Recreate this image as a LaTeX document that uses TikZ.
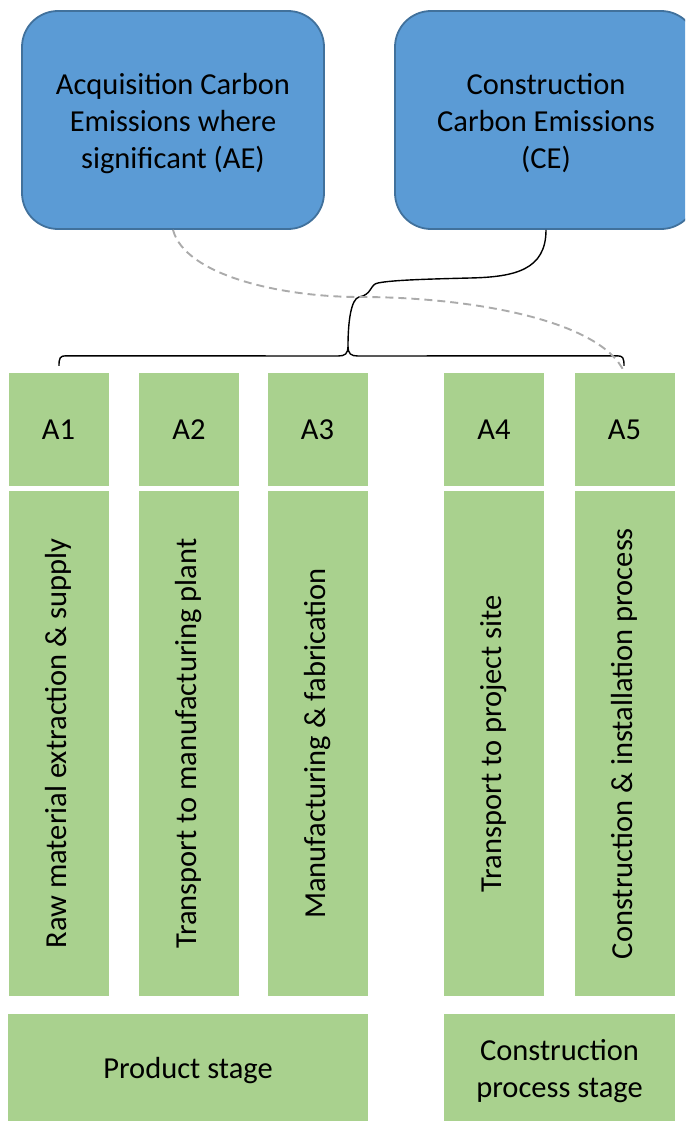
\documentclass[tikz,border=0pt]{standalone}
\usepackage{fontspec}
\setmainfont{Carlito}
\usetikzlibrary{calc}
\definecolor{bluefill}{HTML}{5B9BD5}
\definecolor{blueline}{HTML}{41719C}
\definecolor{greenfill}{HTML}{A9D18E}
\definecolor{dashgray}{HTML}{ABABAB}
\newcommand{\bluetext}[1]{\parbox{280pt}{\vspace*{7pt}\centering #1}}
\tikzset{
  bluebox/.style={rectangle, rounded corners=36pt, fill=bluefill, draw=blueline, line width=1.8pt,
    minimum width=302pt, minimum height=218pt,
    font=\fontsize{30.5}{37}\selectfont, inner sep=0pt},
  greenbox/.style={rectangle, fill=greenfill, draw=none, inner sep=0pt,
    font=\fontsize{30.5}{37}\selectfont, align=center},
  labelbox/.style={greenbox, minimum width=100pt, minimum height=113pt},
  descbox/.style={greenbox, minimum width=100pt, minimum height=505pt},
  stagebox/.style={greenbox, minimum height=114pt},
  bracket/.style={draw=black, line width=1.4pt},
  dashlink/.style={draw=dashgray, line width=1.9pt, dash pattern=on 8pt off 5pt},
}
\begin{document}
\begin{tikzpicture}[x=1pt,y=-1pt]
\useasboundingbox (0,0) rectangle (685,1121);
\clip (0,0) rectangle (685,1121);

% top blue boxes
\node[bluebox] (ae) at (173,120) {\bluetext{Acquisition Carbon\\Emissions where\\significant (AE)}};
\node[bluebox] (ce) at (546,120) {\bluetext{Construction\\Carbon Emissions\\(CE)}};

% A labels
\node[labelbox] (a1) at (58.5,429.5) {A1};
\node[labelbox] (a2) at (189,429.5) {A2};
\node[labelbox] (a3) at (317.5,429.5) {A3};
\node[labelbox] (a4) at (494,429.5) {A4};
\node[labelbox] (a5) at (624.5,429.5) {A5};

% descriptions
\node[descbox] (d1) at (58.5,743.5) {\rotatebox{90}{Raw material extraction \& supply}};
\node[descbox] (d2) at (189,743.5) {\rotatebox{90}{Transport to manufacturing plant}};
\node[descbox] (d3) at (317.5,743.5) {\rotatebox{90}{Manufacturing \& fabrication}};
\node[descbox] (d4) at (494,743.5) {\rotatebox{90}{Transport to project site}};
\node[descbox] (d5) at (624.5,743.5) {\rotatebox{90}{Construction \& installation process}};

% stages
\node[stagebox, minimum width=360pt] (ps) at (188,1071) {Product stage};
\node[stagebox, minimum width=231pt] (cps) at (559.5,1071) {Construction\\process stage};

% brace over A1..A5
\coordinate (tip) at (348,346);
\coordinate (bl) at ($(a1.north)+(0.5,-7)$);
\coordinate (br) at ($(a5.north)+(-0.5,-7)$);
\draw[bracket] (bl) .. controls ($(bl)+(0,-8)$) and ($(bl)+(1,-10)$) .. ($(bl)+(7,-10)$)
  -- (338,356) .. controls (345,356) and (348,354) .. (tip)
  .. controls (348,354) and (351,356) .. (358,356)
  -- ($(br)+(-7,-10)$) .. controls ($(br)+(-1,-10)$) and ($(br)+(0,-8)$) .. (br);

% connector from CE to brace tip
\draw[bracket] (ce.south) .. controls ($(ce.south)+(0,40)$) and (515,277) .. (470,278)
  .. controls (430,279) and (392,280) .. (378,283)
  .. controls (370,284) and (372,295) .. (359,297)
  .. controls (351,299) and (348,322) .. (tip);

% dashed connector from AE to A5
\draw[dashlink] (ae.south) .. controls (185,275) and (280,297) .. (360,297)
  .. controls (470,297) and (602,320) .. (a5.north);
\end{tikzpicture}
\end{document}
